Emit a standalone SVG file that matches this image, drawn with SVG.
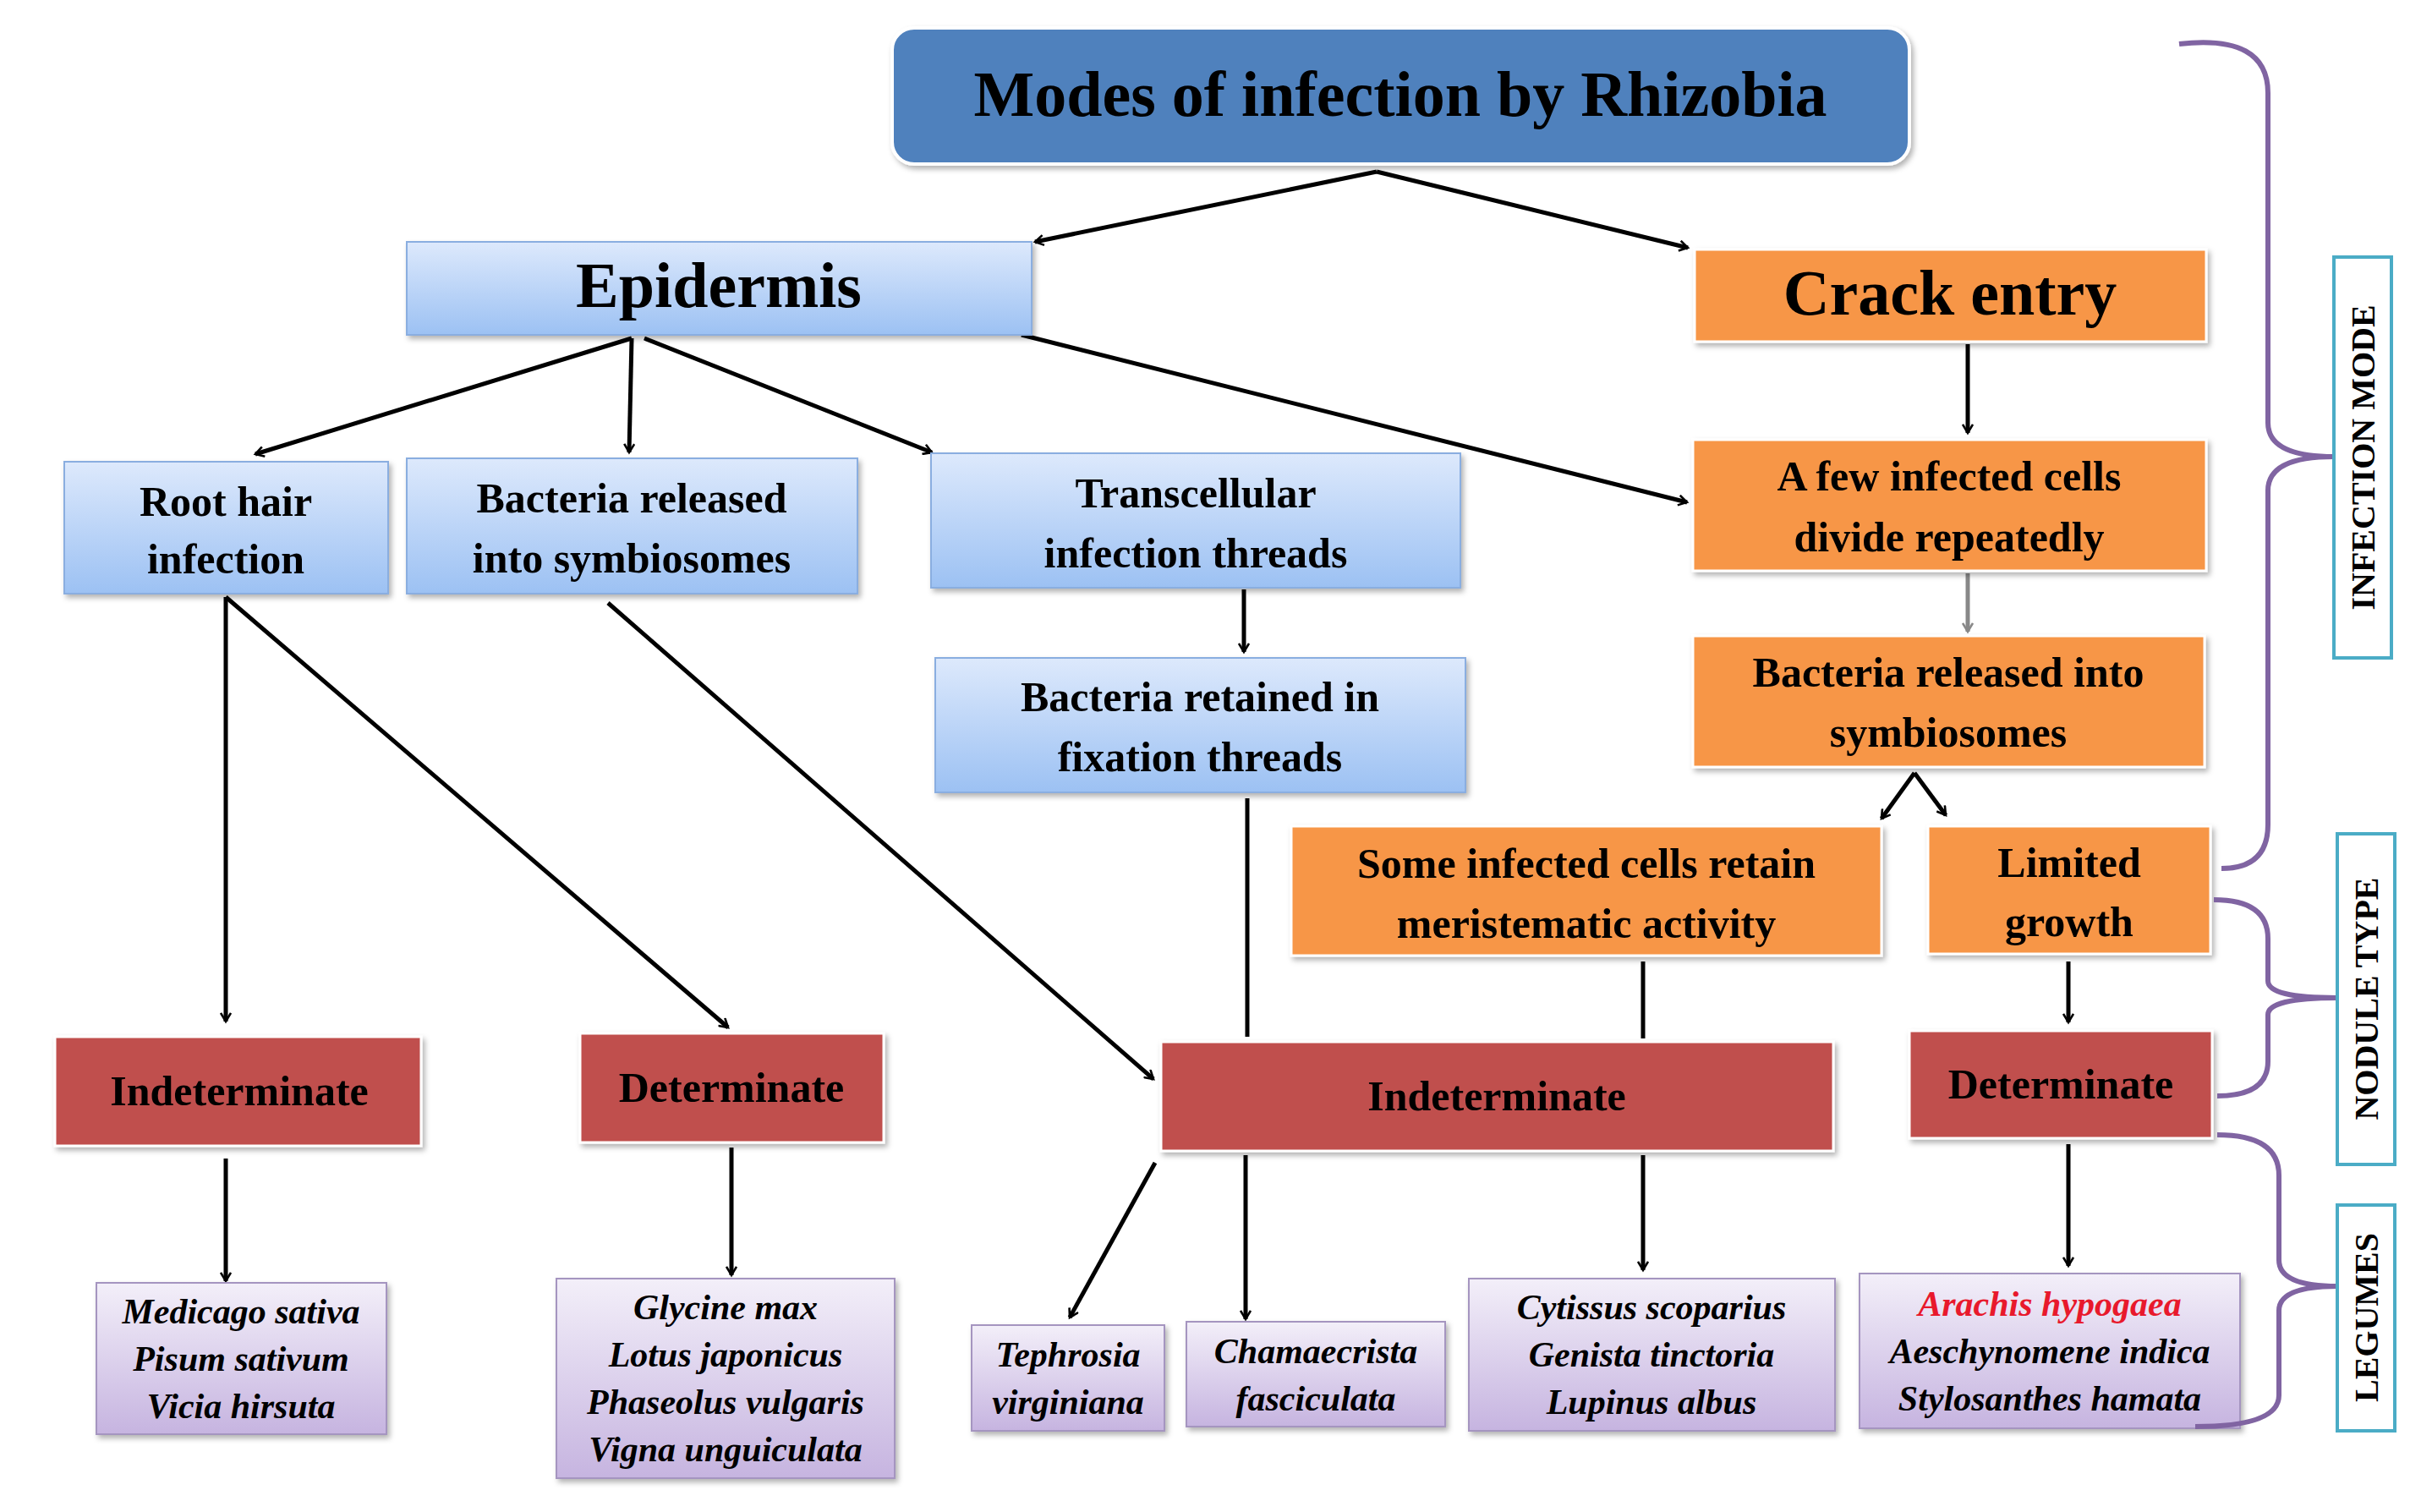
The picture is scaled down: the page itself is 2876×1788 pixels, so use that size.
<svg xmlns="http://www.w3.org/2000/svg" width="2876" height="1788" viewBox="0 0 2876 1788">
<defs>
<linearGradient id="gb" x1="0" y1="0" x2="0" y2="1"><stop offset="0" stop-color="#dde9fc"/><stop offset="1" stop-color="#9cc1f3"/></linearGradient>
<linearGradient id="gp" x1="0" y1="0" x2="0" y2="1"><stop offset="0" stop-color="#f3eff9"/><stop offset="1" stop-color="#c6b4e0"/></linearGradient>
<marker id="ar" markerWidth="14" markerHeight="14" refX="11" refY="7" orient="auto" markerUnits="userSpaceOnUse" viewBox="0 0 14 14">
<path d="M1,1 L11,7 L1,13" fill="none" stroke="#000" stroke-width="2.6"/></marker>
<marker id="arg" markerWidth="14" markerHeight="14" refX="11" refY="7" orient="auto" markerUnits="userSpaceOnUse" viewBox="0 0 14 14">
<path d="M1,1 L11,7 L1,13" fill="none" stroke="#888" stroke-width="2.6"/></marker>
<filter id="sh" x="-5%" y="-5%" width="110%" height="120%"><feDropShadow dx="3" dy="4" stdDeviation="3" flood-color="#000" flood-opacity="0.3"/></filter>
</defs>
<style>
text{font-family:"Liberation Serif","Times New Roman",serif;font-weight:bold;fill:#000;text-anchor:middle}
.b{fill:url(#gb);stroke:#8aaee0;stroke-width:2;filter:url(#sh)}
.o{fill:#f79646;stroke:#fff;stroke-width:3;filter:url(#sh)}
.r{fill:#c0504d;stroke:#fff;stroke-width:3;filter:url(#sh)}
.p{fill:url(#gp);stroke:#a595c0;stroke-width:2;filter:url(#sh)}
.n{font-size:50px}
.i{font-size:42px;font-style:italic}
.c line{stroke:#000;stroke-width:5;marker-end:url(#ar)}
.c line.nm{marker-end:none}
.br{fill:none;stroke:#8064a2;stroke-width:6}
.lb{fill:#fff;stroke:#4bacc6;stroke-width:4}
.lt{font-size:40px}
</style>
<rect width="2876" height="1788" fill="#fff"/>
<g class="c">
<line x1="1628" y1="203" x2="1224" y2="286"/>
<line x1="1628" y1="203" x2="1996" y2="293"/>
<line x1="747" y1="400" x2="302" y2="537"/>
<line x1="747" y1="400" x2="744" y2="535"/>
<line x1="762" y1="400" x2="1102" y2="535"/>
<line x1="1208" y1="396" x2="1995" y2="594"/>
<line x1="2327" y1="407" x2="2327" y2="512"/>
<line x1="2327" y1="678" x2="2327" y2="747" style="stroke:#888;marker-end:url(#arg)"/>
<line x1="2264" y1="914" x2="2225" y2="968"/>
<line x1="2264" y1="914" x2="2301" y2="964"/>
<line x1="267" y1="706" x2="267" y2="1208"/>
<line x1="267" y1="706" x2="861" y2="1215"/>
<line x1="719" y1="713" x2="1364" y2="1276"/>
<line x1="1471" y1="697" x2="1471" y2="771"/>
<line class="nm" x1="1475" y1="944" x2="1475" y2="1226"/>
<line class="nm" x1="1943" y1="1137" x2="1943" y2="1228"/>
<line x1="2446" y1="1137" x2="2446" y2="1209"/>
<line x1="267" y1="1370" x2="267" y2="1515"/>
<line x1="865" y1="1357" x2="865" y2="1508"/>
<line x1="1366" y1="1375" x2="1265" y2="1558"/>
<line x1="1473" y1="1366" x2="1473" y2="1560"/>
<line x1="1943" y1="1366" x2="1943" y2="1502"/>
<line x1="2446" y1="1353" x2="2446" y2="1497"/>
</g>
<g id="title"><rect x="1055" y="33" width="1203" height="161" rx="26" fill="#4f81bd" stroke="#fff" stroke-width="4" filter="url(#sh)"/><text x="1656" y="137" font-size="76">Modes of infection by Rhizobia</text></g>
<g id="epidermis"><rect class="b" x="481" y="286" width="739" height="110"/><text x="850" y="363" font-size="76">Epidermis</text></g>
<g id="crack"><rect class="o" x="2004" y="295" width="605" height="109"/><text x="2306" y="372" font-size="76">Crack entry</text></g>
<g id="roothair"><rect class="b" x="76" y="546" width="383" height="156"/><text class="n" x="267" y="610">Root hair</text><text class="n" x="267" y="678">infection</text></g>
<g id="bactrel"><rect class="b" x="481" y="542" width="533" height="160"/><text class="n" x="747" y="606">Bacteria released</text><text class="n" x="747" y="677">into symbiosomes</text></g>
<g id="transcell"><rect class="b" x="1101" y="536" width="626" height="159"/><text class="n" x="1414" y="600">Transcellular</text><text class="n" x="1414" y="671">infection threads</text></g>
<g id="bactret"><rect class="b" x="1106" y="778" width="627" height="159"/><text class="n" x="1419" y="841">Bacteria retained in</text><text class="n" x="1419" y="912">fixation threads</text></g>
<g id="afew"><rect class="o" x="2002" y="520" width="607" height="155"/><text class="n" x="2305" y="580">A few infected  cells</text><text class="n" x="2305" y="652">divide repeatedly</text></g>
<g id="bactrelo"><rect class="o" x="2002" y="752" width="605" height="155"/><text class="n" x="2304" y="812">Bacteria released into</text><text class="n" x="2304" y="883">symbiosomes</text></g>
<g id="some"><rect class="o" x="1527" y="977" width="698" height="153"/><text class="n" x="1876" y="1038">Some infected cells retain</text><text class="n" x="1876" y="1109">meristematic activity</text></g>
<g id="limited"><rect class="o" x="2280" y="977" width="334" height="151"/><text class="n" x="2447" y="1037">Limited</text><text class="n" x="2447" y="1107">growth</text></g>
<g id="indet1"><rect class="r" x="65" y="1226" width="433" height="129"/><text class="n" x="283" y="1307">Indeterminate</text></g>
<g id="det1"><rect class="r" x="686" y="1222" width="359" height="129"/><text class="n" x="865" y="1303">Determinate</text></g>
<g id="indet2"><rect class="r" x="1373" y="1232" width="795" height="129"/><text class="n" x="1770" y="1313">Indeterminate</text></g>
<g id="det2"><rect class="r" x="2258" y="1219" width="358" height="127"/><text class="n" x="2437" y="1299">Determinate</text></g>
<g id="leg1"><rect class="p" x="114" y="1517" width="343" height="179"/><text class="i" x="285" y="1565">Medicago sativa</text><text class="i" x="285" y="1621">Pisum sativum</text><text class="i" x="285" y="1677">Vicia  hirsuta</text></g>
<g id="leg2"><rect class="p" x="658" y="1512" width="400" height="236"/><text class="i" x="858" y="1560">Glycine max</text><text class="i" x="858" y="1616">Lotus japonicus</text><text class="i" x="858" y="1672">Phaseolus vulgaris</text><text class="i" x="858" y="1728">Vigna unguiculata</text></g>
<g id="leg3"><rect class="p" x="1149" y="1567" width="228" height="125"/><text class="i" x="1263" y="1616">Tephrosia</text><text class="i" x="1263" y="1672">virginiana</text></g>
<g id="leg4"><rect class="p" x="1403" y="1563" width="306" height="124"/><text class="i" x="1556" y="1612">Chamaecrista</text><text class="i" x="1556" y="1668">fasciculata</text></g>
<g id="leg5"><rect class="p" x="1737" y="1512" width="433" height="180"/><text class="i" x="1953" y="1560">Cytissus scoparius</text><text class="i" x="1953" y="1616">Genista tinctoria</text><text class="i" x="1953" y="1672">Lupinus albus</text></g>
<g id="leg6"><rect class="p" x="2199" y="1506" width="450" height="183"/><text class="i" x="2424" y="1556" style="fill:#e8192c">Arachis hypogaea</text><text class="i" x="2424" y="1612">Aeschynomene indica</text><text class="i" x="2424" y="1668">Stylosanthes hamata</text></g>
<g id="braces">
<path class="br" d="M2577,52 Q2682,40 2682,110 L2682,500 Q2682,540 2760,540 Q2682,540 2682,580 L2682,975 Q2682,1027 2627,1027"/>
<path class="br" d="M2618,1064 Q2682,1064 2682,1110 L2682,1160 Q2682,1180 2764,1180 Q2682,1180 2682,1200 L2682,1255 Q2682,1296 2622,1296"/>
<path class="br" d="M2622,1342 Q2695,1342 2695,1390 L2695,1490 Q2695,1521 2764,1521 Q2695,1521 2695,1550 L2695,1650 Q2695,1687 2596,1687"/>
</g>
<g id="lab1"><rect class="lb" x="2760" y="304" width="68" height="474"/><text class="lt" transform="translate(2808,541) rotate(-90)">INFECTION  MODE</text></g>
<g id="lab2"><rect class="lb" x="2764" y="986" width="68" height="391"/><text class="lt" transform="translate(2812,1181) rotate(-90)">NODULE  TYPE</text></g>
<g id="lab3"><rect class="lb" x="2764" y="1425" width="68" height="267"/><text class="lt" transform="translate(2812,1558) rotate(-90)">LEGUMES</text></g>
</svg>
